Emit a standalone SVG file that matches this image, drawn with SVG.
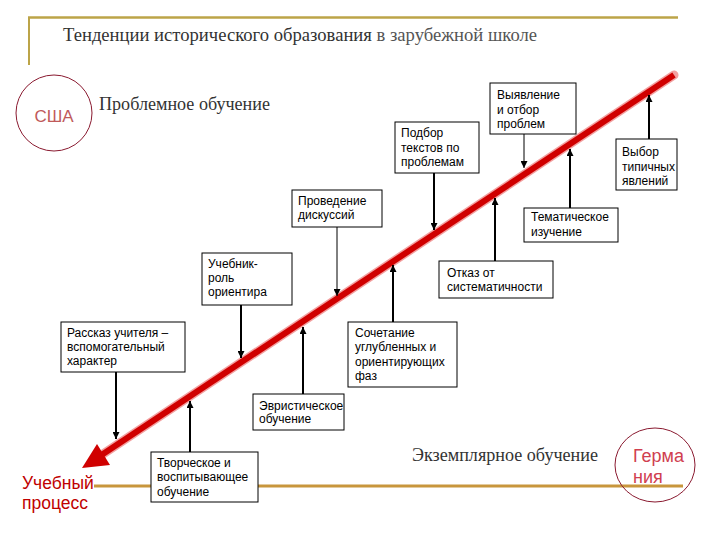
<svg xmlns="http://www.w3.org/2000/svg" width="720" height="540" viewBox="0 0 720 540">
<defs>
<style>
.box{fill:#fff;stroke:#000;stroke-width:1}
.t{font-family:"Liberation Sans",Arial,sans-serif;font-size:12px;fill:#000}
.serif{font-family:"Liberation Serif","Times New Roman",serif;fill:#333}
.conn{stroke:#000;stroke-width:2;fill:none}
.thin{stroke-width:1}
</style>
<marker id="ah" viewBox="0 0 10 10" refX="10" refY="5" markerWidth="7" markerHeight="7" markerUnits="userSpaceOnUse" orient="auto">
<path d="M0,0 L10,5 L0,10 z" fill="#000"/>
</marker>
</defs>
<rect width="720" height="540" fill="#fff"/>
<g id="frame">
<line x1="28" y1="17.5" x2="678" y2="17.5" stroke="#bca448" stroke-width="2.5"/>
<line x1="29" y1="17" x2="29" y2="65" stroke="#bca448" stroke-width="2"/>
<line x1="94" y1="486" x2="683" y2="486" stroke="#c8963c" stroke-width="3"/>
</g>
<text id="title" x="63" y="41" class="serif" font-size="18" fill="#222" textLength="474" lengthAdjust="spacingAndGlyphs">Тенденции исторического образования <tspan fill="#555">в зарубежной школе</tspan></text>
<g id="usa">
<circle cx="54" cy="113" r="38" fill="none" stroke="#8a1a30" stroke-width="1"/>
<text x="54" y="122" text-anchor="middle" font-family="Liberation Sans,Arial,sans-serif" font-size="17" fill="#c05a5a">США</text>
</g>
<text id="problem" x="99" y="110" class="serif" font-size="18" textLength="171" lengthAdjust="spacingAndGlyphs">Проблемное обучение</text>
<text id="exempl" x="412" y="461" class="serif" font-size="18" textLength="186" lengthAdjust="spacingAndGlyphs">Экземплярное обучение</text>
<g id="germany">
<ellipse cx="655" cy="465" rx="40" ry="37" fill="none" stroke="#8a1a30" stroke-width="1"/>
<text x="633" y="462" font-family="Liberation Sans,Arial,sans-serif" font-size="18" fill="#d04050">Герма</text>
<text x="633" y="483" font-family="Liberation Sans,Arial,sans-serif" font-size="18" fill="#d04050">ния</text>
</g>
<g id="process">
<text x="22" y="489" font-family="Liberation Sans,Arial,sans-serif" font-size="17.5" fill="#c00000">Учебный</text>
<text x="22" y="509" font-family="Liberation Sans,Arial,sans-serif" font-size="17.5" fill="#c00000">процесс</text>
</g>
<g id="trend-arrow">
<line x1="674" y1="75" x2="100" y2="456" stroke="#f3a0a0" stroke-width="9" stroke-linecap="round"/>
<line x1="674" y1="75" x2="100" y2="456" stroke="#d00000" stroke-width="6"/>
<polygon points="82,468 110,465 97,444" fill="#d00000"/>
</g>
<g id="connectors">
<line class="conn thin" x1="524" y1="134" x2="524" y2="168" marker-end="url(#ah)"/>
<line class="conn" x1="434" y1="173" x2="434" y2="230" marker-end="url(#ah)"/>
<line class="conn" x1="649" y1="139" x2="649" y2="95" marker-end="url(#ah)"/>
<line class="conn" x1="570" y1="208" x2="570" y2="149" marker-end="url(#ah)"/>
<line class="conn" x1="495" y1="261" x2="495" y2="198" marker-end="url(#ah)"/>
<line class="conn thin" x1="337" y1="227" x2="337" y2="296" marker-end="url(#ah)"/>
<line class="conn" x1="241" y1="305" x2="241" y2="358" marker-end="url(#ah)"/>
<line class="conn" x1="393" y1="322" x2="393" y2="265" marker-end="url(#ah)"/>
<line class="conn" x1="116" y1="372" x2="116" y2="439" marker-end="url(#ah)"/>
<line class="conn" x1="303" y1="394" x2="303" y2="327" marker-end="url(#ah)"/>
<line class="conn" x1="190" y1="452" x2="190" y2="401" marker-end="url(#ah)"/>
</g>
<g id="n-vyyavlenie">
<rect class="box" x="490" y="83" width="86" height="51"/>
<text class="t" x="497" y="99">Выявление</text>
<text class="t" x="497" y="113.5">и отбор</text>
<text class="t" x="497" y="128">проблем</text>
</g>
<g id="n-podbor">
<rect class="box" x="395" y="122" width="84" height="51"/>
<text class="t" x="401" y="137">Подбор</text>
<text class="t" x="401" y="151.5">текстов по</text>
<text class="t" x="401" y="166">проблемам</text>
</g>
<g id="n-vybor">
<rect class="box" x="616" y="139" width="61" height="51"/>
<text class="t" x="622" y="156">Выбор</text>
<text class="t" x="622" y="170.5">типичных</text>
<text class="t" x="622" y="185">явлений</text>
</g>
<g id="n-tematich">
<rect class="box" x="524" y="208" width="94" height="34"/>
<text class="t" x="531" y="221">Тематическое</text>
<text class="t" x="531" y="236">изучение</text>
</g>
<g id="n-otkaz">
<rect class="box" x="439" y="261" width="114" height="37"/>
<text class="t" x="447" y="277">Отказ от</text>
<text class="t" x="447" y="291">систематичности</text>
</g>
<g id="n-provedenie">
<rect class="box" x="292" y="190" width="90" height="37"/>
<text class="t" x="298" y="205">Проведение</text>
<text class="t" x="298" y="219">дискуссий</text>
</g>
<g id="n-uchebnik">
<rect class="box" x="202" y="253" width="90" height="52"/>
<text class="t" x="208" y="268">Учебник-</text>
<text class="t" x="208" y="282">роль</text>
<text class="t" x="208" y="296">ориентира</text>
</g>
<g id="n-rasskaz">
<rect class="box" x="61" y="322" width="124" height="50"/>
<text class="t" x="67" y="337">Рассказ учителя –</text>
<text class="t" x="67" y="351">вспомогательный</text>
<text class="t" x="67" y="365">характер</text>
</g>
<g id="n-sochetanie">
<rect class="box" x="348" y="322" width="109" height="65"/>
<text class="t" x="355" y="337">Сочетание</text>
<text class="t" x="355" y="351">углубленных и</text>
<text class="t" x="355" y="366">ориентирующих</text>
<text class="t" x="355" y="380">фаз</text>
</g>
<g id="n-evrist">
<rect class="box" x="253" y="394" width="91" height="36"/>
<text class="t" x="259" y="410">Эвристическое</text>
<text class="t" x="259" y="423">обучение</text>
</g>
<g id="n-tvorch">
<rect class="box" x="151" y="452" width="107" height="50"/>
<text class="t" x="157" y="467">Творческое и</text>
<text class="t" x="157" y="481">воспитывающее</text>
<text class="t" x="157" y="496">обучение</text>
</g>
</svg>
